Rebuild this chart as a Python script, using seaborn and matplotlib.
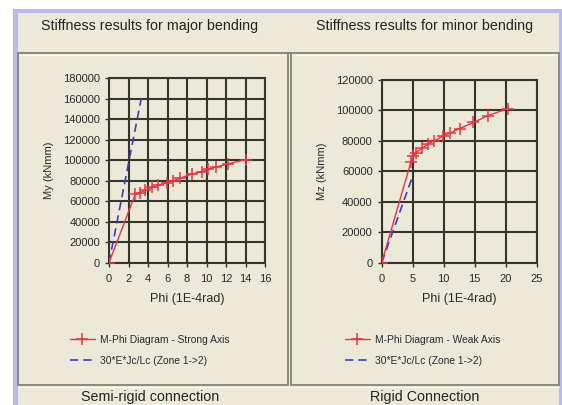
import matplotlib
matplotlib.use("Agg")
import matplotlib.pyplot as plt
from matplotlib.patches import Rectangle
from matplotlib.lines import Line2D
import seaborn as sns
import pandas as pd

# ---- data ----
major_phi = [0, 2.7, 3.2, 3.7, 4.4, 5.0, 5.9, 6.6, 7.3, 8.5, 9.5, 10.2, 11.0, 12.2, 14.0]
major_m = [0, 67000, 68500, 70500, 73500, 75500, 78000, 80000, 82500, 86500, 89000, 91500, 93500, 96500, 100500]
major_ref_phi = [0, 3.3]
major_ref_m = [0, 160000]

minor_phi = [0, 4.7, 5.1, 5.5, 6.5, 7.5, 8.5, 9.9, 11.0, 12.6, 14.8, 17.2, 20.3]
minor_m = [0, 66000, 70000, 72000, 75000, 78000, 80000, 83000, 85000, 88000, 92000, 96500, 101000]
minor_ref_phi = [0, 5.1]
minor_ref_m = [0, 58000]

major_xticks = [0, 2, 4, 6, 8, 10, 12, 14, 16]
major_yticks = [0, 20000, 40000, 60000, 80000, 100000, 120000, 140000, 160000, 180000]
minor_xticks = [0, 5, 10, 15, 20, 25]
minor_yticks = [0, 20000, 40000, 60000, 80000, 100000, 120000]

titles = ["Stiffness results for major bending", "Stiffness results for minor bending"]
footers = ["Semi-rigid connection", "Rigid Connection"]
ylabels = ["My (kNmm)", "Mz (kNmm)"]
xlabel = "Phi (1E-4rad)"
legend_labels = [["M-Phi Diagram - Strong Axis", "30*E*Jc/Lc (Zone 1->2)"],
                 ["M-Phi Diagram - Weak Axis", "30*E*Jc/Lc (Zone 1->2)"]]

sns.set_style("ticks")
plt.rcParams['font.family'] = ['Liberation Sans', 'DejaVu Sans']

W, H = 562, 405
fig = plt.figure(figsize=(W / 100, H / 100), dpi=100)
fig.patch.set_facecolor("white")

BEIGE = "#ECE9D8"
LAV = "#B9B9EE"
EDGE = "#8C8A7C"
GRID = "#35352E"
RED = "#E8353F"
BLUE = "#3B3BC4"


def px_rect(x0, y0, x1, y1, **kw):
    r = Rectangle((x0 / W, 1 - y1 / H), (x1 - x0) / W, (y1 - y0) / H,
                  transform=fig.transFigure, zorder=-20, **kw)
    fig.patches.append(r)


def px_line(x0, y0, x1, y1, **kw):
    fig.add_artist(Line2D([x0 / W, x1 / W], [1 - y0 / H, 1 - y1 / H],
                          transform=fig.transFigure, zorder=-10, **kw))


# background chrome
px_rect(13, 9, 562, 405, facecolor=LAV, edgecolor="none")
px_rect(18, 13, 559, 405, facecolor=BEIGE, edgecolor="none")
px_line(18, 53, 559, 53, color=EDGE, lw=1.4)
px_line(18, 54.5, 559, 54.5, color="white", lw=0.8)
# panel boxes
for (x0, x1) in [(18, 287.5), (291, 559)]:
    px_line(x0, 53, x0, 385, color=EDGE, lw=1.4)
    px_line(x1, 53, x1, 385, color=EDGE, lw=1.4)
    px_line(x0, 385, x1, 385, color=EDGE, lw=1.4)
px_line(18, 387, 559, 387, color="white", lw=0.8)

# titles / footers
for cx, t, f in [(150, titles[0], footers[0]), (425, titles[1], footers[1])]:
    fig.text(cx / W, 1 - 26 / H, t, ha="center", va="center", fontsize=10.3, color="#222222")
    fig.text(cx / W, 1 - 397 / H, f, ha="center", va="center", fontsize=10.3, color="#222222")

ax1 = fig.add_axes([109 / W, 1 - 262.7 / H, 156 / W, 184.4 / H])
ax2 = fig.add_axes([381.7 / W, 1 - 262.7 / H, 155 / W, 183 / H])

panels = [
    (ax1, major_phi, major_m, major_ref_phi, major_ref_m, major_xticks, major_yticks, ylabels[0], legend_labels[0], 70),
    (ax2, minor_phi, minor_m, minor_ref_phi, minor_ref_m, minor_xticks, minor_yticks, ylabels[1], legend_labels[1], 345),
]

for ax, px, pm, rx, rm, xt, yt, yl, ll, legx in panels:
    ax.set_zorder(5)
    ax.set_facecolor(BEIGE)
    df_ref = pd.DataFrame({"phi": rx, "m": rm})
    df = pd.DataFrame({"phi": px, "m": pm})
    sns.lineplot(data=df_ref, x="phi", y="m", ax=ax, color=BLUE, lw=1.2,
                 sort=False, estimator=None, zorder=3,
                 linestyle=(0, (5, 3)))
    sns.lineplot(data=df, x="phi", y="m", ax=ax, color=RED, lw=1.0,
                 marker="+", markersize=9, markeredgewidth=1.1,
                 markeredgecolor=RED, sort=False, estimator=None, zorder=4)
    ax.set_xlim(xt[0], xt[-1])
    ax.set_ylim(yt[0], yt[-1])
    ax.set_xticks(xt)
    ax.set_yticks(yt)
    ax.set_xticklabels([str(v) for v in xt])
    ax.set_yticklabels([str(v) for v in yt])
    ax.grid(True, color=GRID, lw=1.5)
    ax.set_axisbelow(True)
    for s in ax.spines.values():
        s.set_visible(True)
        s.set_color(GRID)
        s.set_linewidth(1.5)
    ax.tick_params(axis="both", direction="out", length=3, width=1.0, color=GRID,
                   labelsize=8.0, labelcolor="#2a2a2a", pad=3.5)
    ax.tick_params(axis="x", pad=5)
    ax.set_xlabel(xlabel, fontsize=9.0, color="#2a2a2a")
    ax.xaxis.label.set_va("center")
    ax.xaxis.set_label_coords(0.5, -(299 - 262.7) / 184.4)
    ax.set_ylabel(yl, fontsize=8.0, color="#2a2a2a")
    ax.yaxis.label.set_va("center")
    ax.yaxis.set_label_coords(-0.385, 0.5)

    handles = [Line2D([], [], color=RED, lw=1.0, marker="+", markersize=9, markeredgewidth=1.1),
               Line2D([], [], color=BLUE, lw=1.2, linestyle=(0, (5, 3)))]
    ax.legend(handles, ll, loc="upper left", bbox_to_anchor=(legx / W, 1 - 335 / H),
              bbox_transform=fig.transFigure, frameon=False, fontsize=7.4,
              handlelength=2.4, handletextpad=0.5, labelspacing=1.05,
              borderpad=0, borderaxespad=0, labelcolor="#2a2a2a")

fig.savefig("out.png", dpi=100, facecolor=fig.get_facecolor())
